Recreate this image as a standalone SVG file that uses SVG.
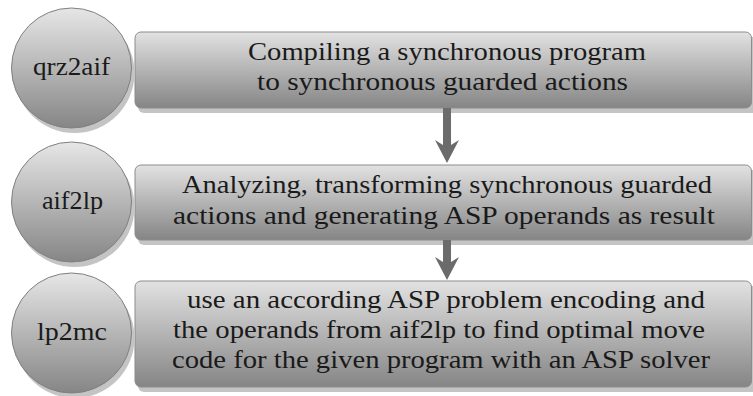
<svg xmlns="http://www.w3.org/2000/svg" width="753" height="396" viewBox="0 0 753 396">
<defs>
<linearGradient id="gBox" x1="0" y1="0" x2="0" y2="1">
<stop offset="0" stop-color="#e2e2e2"/>
<stop offset="1" stop-color="#858585"/>
</linearGradient>
<linearGradient id="gCirc" x1="0" y1="0" x2="0" y2="1">
<stop offset="0" stop-color="#e6e6e6"/>
<stop offset="1" stop-color="#868686"/>
</linearGradient>
</defs>
<style>
.box{fill:url(#gBox);stroke:#8c8c8c;stroke-width:1}
.circ{fill:url(#gCirc);stroke:#808080;stroke-width:1}
.shadow{fill:#c4c4c4}
.t{font-family:"Liberation Serif","DejaVu Serif",serif;font-size:25px;fill:#1a1a1a}
.arrow{fill:#6b6b6b}
</style>
<rect width="753" height="396" fill="#ffffff"/>

<g id="box1">
<rect class="shadow" x="138" y="37" width="620" height="76" rx="6"/>
<rect class="box" x="135" y="32" width="616.5" height="76" rx="6"/>
<text class="t" x="248" y="60" textLength="398" lengthAdjust="spacingAndGlyphs">Compiling a synchronous program</text>
<text class="t" x="257" y="90" textLength="371" lengthAdjust="spacingAndGlyphs">to synchronous guarded actions</text>
</g>
<g id="circle1">
<circle class="shadow" cx="74.5" cy="73" r="60"/>
<circle class="circ" cx="71.5" cy="68" r="60"/>
<text class="t" x="33" y="75" textLength="77" lengthAdjust="spacingAndGlyphs">qrz2aif</text>
</g>

<g id="box2">
<rect class="shadow" x="138" y="170" width="620" height="75" rx="6"/>
<rect class="box" x="135" y="165" width="616.5" height="75" rx="6"/>
<text class="t" x="182" y="193" textLength="530" lengthAdjust="spacingAndGlyphs">Analyzing, transforming synchronous guarded</text>
<text class="t" x="173" y="224" textLength="542" lengthAdjust="spacingAndGlyphs">actions and generating ASP operands as result</text>
</g>
<g id="circle2">
<circle class="shadow" cx="74.5" cy="207" r="60"/>
<circle class="circ" cx="71.5" cy="202" r="60"/>
<text class="t" x="42" y="209" textLength="61" lengthAdjust="spacingAndGlyphs">aif2lp</text>
</g>

<g id="box3">
<rect class="shadow" x="138" y="286" width="620" height="106" rx="6"/>
<rect class="box" x="135" y="281" width="616.5" height="106" rx="6"/>
<text class="t" x="187" y="308" textLength="518" lengthAdjust="spacingAndGlyphs">use an according ASP problem encoding and</text>
<text class="t" x="173" y="338" textLength="532" lengthAdjust="spacingAndGlyphs">the operands from aif2lp to find optimal move</text>
<text class="t" x="172" y="368" textLength="538" lengthAdjust="spacingAndGlyphs">code for the given program with an ASP solver</text>
</g>
<g id="circle3">
<circle class="shadow" cx="74.5" cy="338" r="60"/>
<circle class="circ" cx="71.5" cy="333" r="60"/>
<text class="t" x="37" y="340" textLength="70" lengthAdjust="spacingAndGlyphs">lp2mc</text>
</g>

<g id="connectors">
<path class="arrow" d="M443,108 H451 V145 L459,140 L447,163 L435,140 L443,145 Z"/>
<path class="arrow" d="M443,240 H451 V262 L459,257 L447,280 L435,257 L443,262 Z"/>
</g>
</svg>
